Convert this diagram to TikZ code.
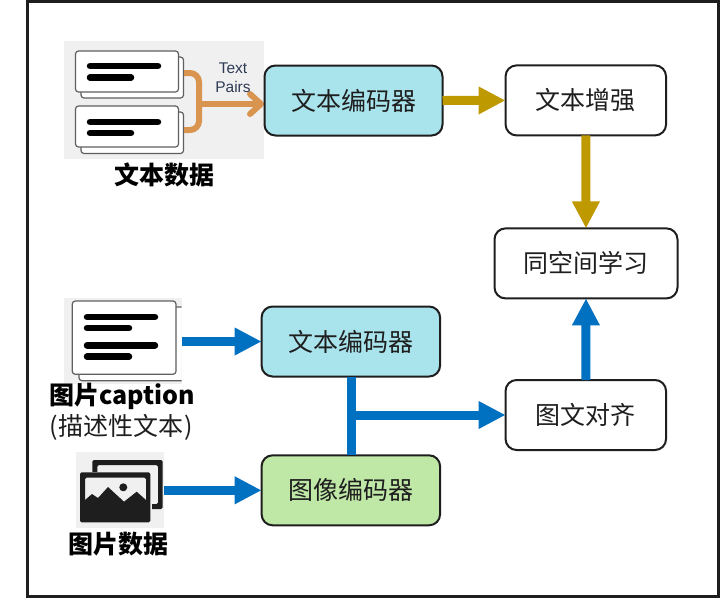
\documentclass[tikz,border=0pt]{standalone}
\usepackage{fontspec}
\setmainfont{Noto Sans CJK SC}
\newfontfamily\latinfont{Liberation Sans}
\usetikzlibrary{arrows.meta,calc}
\definecolor{bluearrow}{HTML}{0070C0}
\definecolor{goldarrow}{HTML}{BF9900}
\definecolor{tealfill}{HTML}{A9E3EC}
\definecolor{greenfill}{HTML}{BFE7A6}
\definecolor{ink}{HTML}{1E1E1E}
\definecolor{iconbg}{HTML}{F0F0F0}
\definecolor{orangearrow}{HTML}{D9954F}
\definecolor{cardedge}{HTML}{5F5F5F}
\definecolor{pairink}{HTML}{2F3B55}
\tikzset{
  flowbox/.style={draw=ink,line width=2pt,rounded corners=11pt,outer sep=0pt,inner sep=0pt,
    text=ink,font=\fontsize{25}{30}\selectfont,minimum height=70pt},
  goldlink/.style={draw=goldarrow,line width=9pt,-{Triangle[width=26pt,length=27pt]}},
  bluelink/.style={draw=bluearrow,line width=9pt,-{Triangle[width=26pt,length=27pt]}},
  blueline/.style={draw=bluearrow,line width=9pt},
  iconback/.style={fill=iconbg,draw=none,inner sep=0pt,outer sep=0pt},
  card/.style={draw=cardedge,fill=white,line width=1.2pt,rounded corners=3pt},
  textbar/.style={draw=black,line width=6.5pt,line cap=round},
  orangelink/.style={draw=orangearrow,line width=6pt,rounded corners=9pt},
  caplabel/.style={text=black,inner sep=0pt,font=\fontsize{25}{30}\selectfont\bfseries},
  plainlabel/.style={text=ink,inner sep=0pt,font=\fontsize{25}{30}\selectfont},
  smalllabel/.style={text=pairink,inner sep=0pt,font=\latinfont\fontsize{15.5}{18}\selectfont}
}
\begin{document}
\begin{tikzpicture}[x=1pt,y=-1pt]
\useasboundingbox (0,0) rectangle (721,598);
\fill[white] (0,0) rectangle (721,598);
\draw[ink,line width=3pt] (27.5,1.5) rectangle (718.7,596.5);

% icon 1: text pairs
\node[iconback,minimum width=200pt,minimum height=118pt] (iconpairs) at (164,100) {};
\draw[card] (81,57) rectangle (183.5,98);
\draw[card] (75.5,51) rectangle (178.5,92);
\draw[textbar] (90,66) -- (158,66);
\draw[textbar] (90,77.5) -- (131,77.5);
\draw[card] (81,112) rectangle (183.5,153.5);
\draw[card] (75.5,106) rectangle (178.5,147);
\draw[textbar] (90,122) -- (158,122);
\draw[textbar] (90,133) -- (131,133);
\coordinate (pairsA) at (184,73);
\coordinate (pairsB) at (184,130);
\coordinate (pairsJ) at (199,104);
\coordinate (pairsEnd) at (261,104);
\draw[orangelink] (pairsA) -| (pairsJ) |- (pairsB);
\draw[orangelink,rounded corners=0pt] (pairsJ) -- (pairsEnd);
\draw[orangelink,rounded corners=0pt,line cap=round,line join=round] ($(pairsEnd)+(-11,-10)$) -- (pairsEnd) -- ($(pairsEnd)+(-11,10)$);
\node[smalllabel] (pairstext) at (233,68.5) {Text};
\node[smalllabel] (pairspairs) at (233,87) {Pairs};
\node[caplabel] (lblpairs) at (164,175) {文本数据};

% icon 2: caption
\node[iconback,minimum width=117.7pt,minimum height=86pt] (iconcap) at (122.85,341) {};
\begin{scope}
\clip (64,298) rectangle (181.7,384);
\draw[card] (79,307) rectangle (190,380.7);
\draw[card] (72.3,301) rectangle (176,374.3);
\end{scope}
\draw[textbar] (87,317) -- (155,317);
\draw[textbar] (87,328) -- (129,328);
\draw[textbar] (87,345.3) -- (155,345.3);
\draw[textbar] (87,356.7) -- (129,356.7);
\node[caplabel] (lblcap) at (122,396.5) {图片caption};
\node[plainlabel] (lblcapsub) at (121,427) {(\kern1pt描述性文本\kern1pt)};

% icon 3: images
\node[iconback,minimum width=88pt,minimum height=75.4pt] (iconimg) at (120,490) {};
\fill[ink,rounded corners=1.5pt,even odd rule] (92.3,460) rectangle (162.7,509) (97.3,465) rectangle (158,504);
\fill[iconbg] (85,472) rectangle (152,518);
\fill[ink,rounded corners=1.5pt,even odd rule] (80,472.3) rectangle (150.3,522.3) (85,477.7) rectangle (146,517);
\fill[ink] (85,500) -- (92,494) -- (98,498) -- (108,487) -- (120,498) -- (124,501.7) -- (136.7,491.7) -- (146,500) -- (146,518) -- (85,518) -- cycle;
\fill[ink] (123.3,487.3) circle (4);
\node[caplabel] (lblimg) at (118,544) {图片数据};

% flow boxes
\node[flowbox,fill=tealfill,minimum width=178pt] (txta) at (353.5,100.5) {文本编码器};
\node[flowbox,fill=white,minimum width=160.5pt] (enh) at (585.8,100.4) {文本增强};
\node[flowbox,fill=white,minimum width=183pt] (space) at (586,263.4) {同空间学习};
\node[flowbox,fill=tealfill,minimum width=178.5pt] (txtb) at (350.85,341.5) {文本编码器};
\node[flowbox,fill=greenfill,minimum width=178.5pt] (imgenc) at (350.85,490.3) {图像编码器};
\node[flowbox,fill=white,minimum width=160.5pt] (align) at (585.8,415) {图文对齐};

% connectors
\draw[goldlink] (txta.east) -- (enh.west);
\draw[goldlink] (enh.south) -- (space.north);
\draw[bluelink] (iconcap.east |- txtb.west) -- (txtb.west);
\draw[bluelink] (iconimg.east |- imgenc.west) -- (imgenc.west);
\coordinate (junction) at ([xshift=.8pt]txtb.south);
\draw[blueline] (junction) -- (junction |- imgenc.north);
\draw[bluelink] (junction |- align.west) -- (align.west);
\draw[bluelink] (align.north) -- (space.south);
\end{tikzpicture}
\end{document}
